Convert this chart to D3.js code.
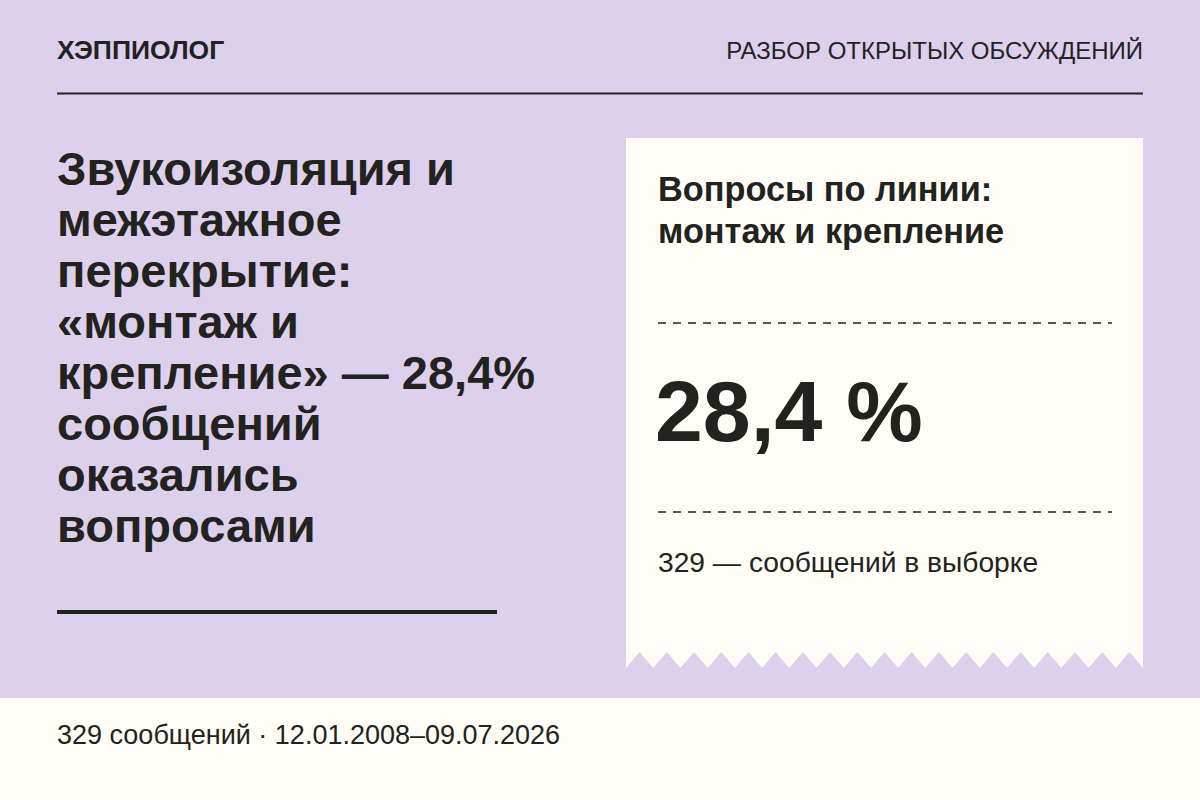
<!DOCTYPE html>
<html><head><meta charset="utf-8">
<script src="https://cdn.jsdelivr.net/npm/d3@7"></script>
<style>body{margin:0}svg{display:block;font-family:"Liberation Sans",Arial,sans-serif}</style>
</head><body><div id="card"></div>
<script>
var brand = "ХЭППИОЛОГ";
var section = "РАЗБОР ОТКРЫТЫХ ОБСУЖДЕНИЙ";
var titleLines = ["Звукоизоляция и", "межэтажное", "перекрытие:", "«монтаж и", "крепление» — 28,4%", "сообщений", "оказались", "вопросами"];
var cardHead = ["Вопросы по линии:", "монтаж и крепление"];
var share = [28.4];
var total = [329];
var period = ["12.01.2008", "09.07.2026"];

var W = 1200, H = 800;
var bg = "#dcd0ec", paper = "#fffdf5", ink = "#22221e";
var fmt = d => String(d).replace(".", ",");

var svg = d3.select("#card").append("svg").attr("width", W).attr("height", H);
svg.append("rect").attr("width", W).attr("height", H).attr("fill", bg);
svg.append("rect").attr("y", 698).attr("width", W).attr("height", H - 698).attr("fill", paper);

// header
svg.append("text").attr("x", 57).attr("y", 59).attr("font-size", 26.5).attr("font-weight", "bold")
  .attr("fill", ink).text(brand);
svg.append("text").attr("x", 1143).attr("y", 59).attr("font-size", 24).attr("text-anchor", "end")
  .attr("fill", ink).text(section);
svg.append("line").attr("x1", 57).attr("x2", 1143).attr("y1", 93.5).attr("y2", 93.5)
  .attr("stroke", ink).attr("stroke-width", 2);

// title
var ty = d3.scaleLinear().domain([0, 1]).range([185, 236]);
svg.append("g").selectAll("text").data(titleLines).join("text")
  .attr("x", 57).attr("y", (d, i) => ty(i)).attr("font-size", 47).attr("font-weight", "bold")
  .attr("fill", ink).text(d => d);
svg.append("line").attr("x1", 57).attr("x2", 497).attr("y1", 612).attr("y2", 612)
  .attr("stroke", ink).attr("stroke-width", 4);

// receipt card with zigzag bottom
var cx0 = 626, cx1 = 1143, cTop = 138, valley = 668, peak = 652;
var n = 19, step = (cx1 - cx0) / n;
var pts = [[cx0, cTop], [cx1, cTop]];
for (var k = n; k >= 0; k--) {
  pts.push([cx0 + k * step, valley]);
  if (k > 0) pts.push([cx0 + (k - 0.5) * step, peak]);
}
svg.insert("path", "text").attr("d", d3.line()(pts) + "Z").attr("fill", paper);

svg.append("g").selectAll("text").data(cardHead).join("text")
  .attr("x", 658).attr("y", (d, i) => 201 + i * 42).attr("font-size", 34.3).attr("font-weight", "bold")
  .attr("fill", ink).text(d => d);
[323, 512].forEach(y => svg.append("line").attr("x1", 658).attr("x2", 1112).attr("y1", y).attr("y2", y)
  .attr("stroke", ink).attr("stroke-width", 1.5).attr("stroke-dasharray", "8,7"));
svg.append("text").attr("x", 655).attr("y", 441).attr("font-size", 86).attr("font-weight", "bold")
  .attr("fill", ink).text(fmt(share[0]) + " %");
svg.append("text").attr("x", 658).attr("y", 572).attr("font-size", 28.2).attr("fill", ink)
  .text(total[0] + " — сообщений в выборке");

// footer
svg.append("text").attr("x", 57).attr("y", 744).attr("font-size", 27).attr("fill", ink)
  .text(total[0] + " сообщений · " + period[0] + "–" + period[1]);
</script></body></html>
